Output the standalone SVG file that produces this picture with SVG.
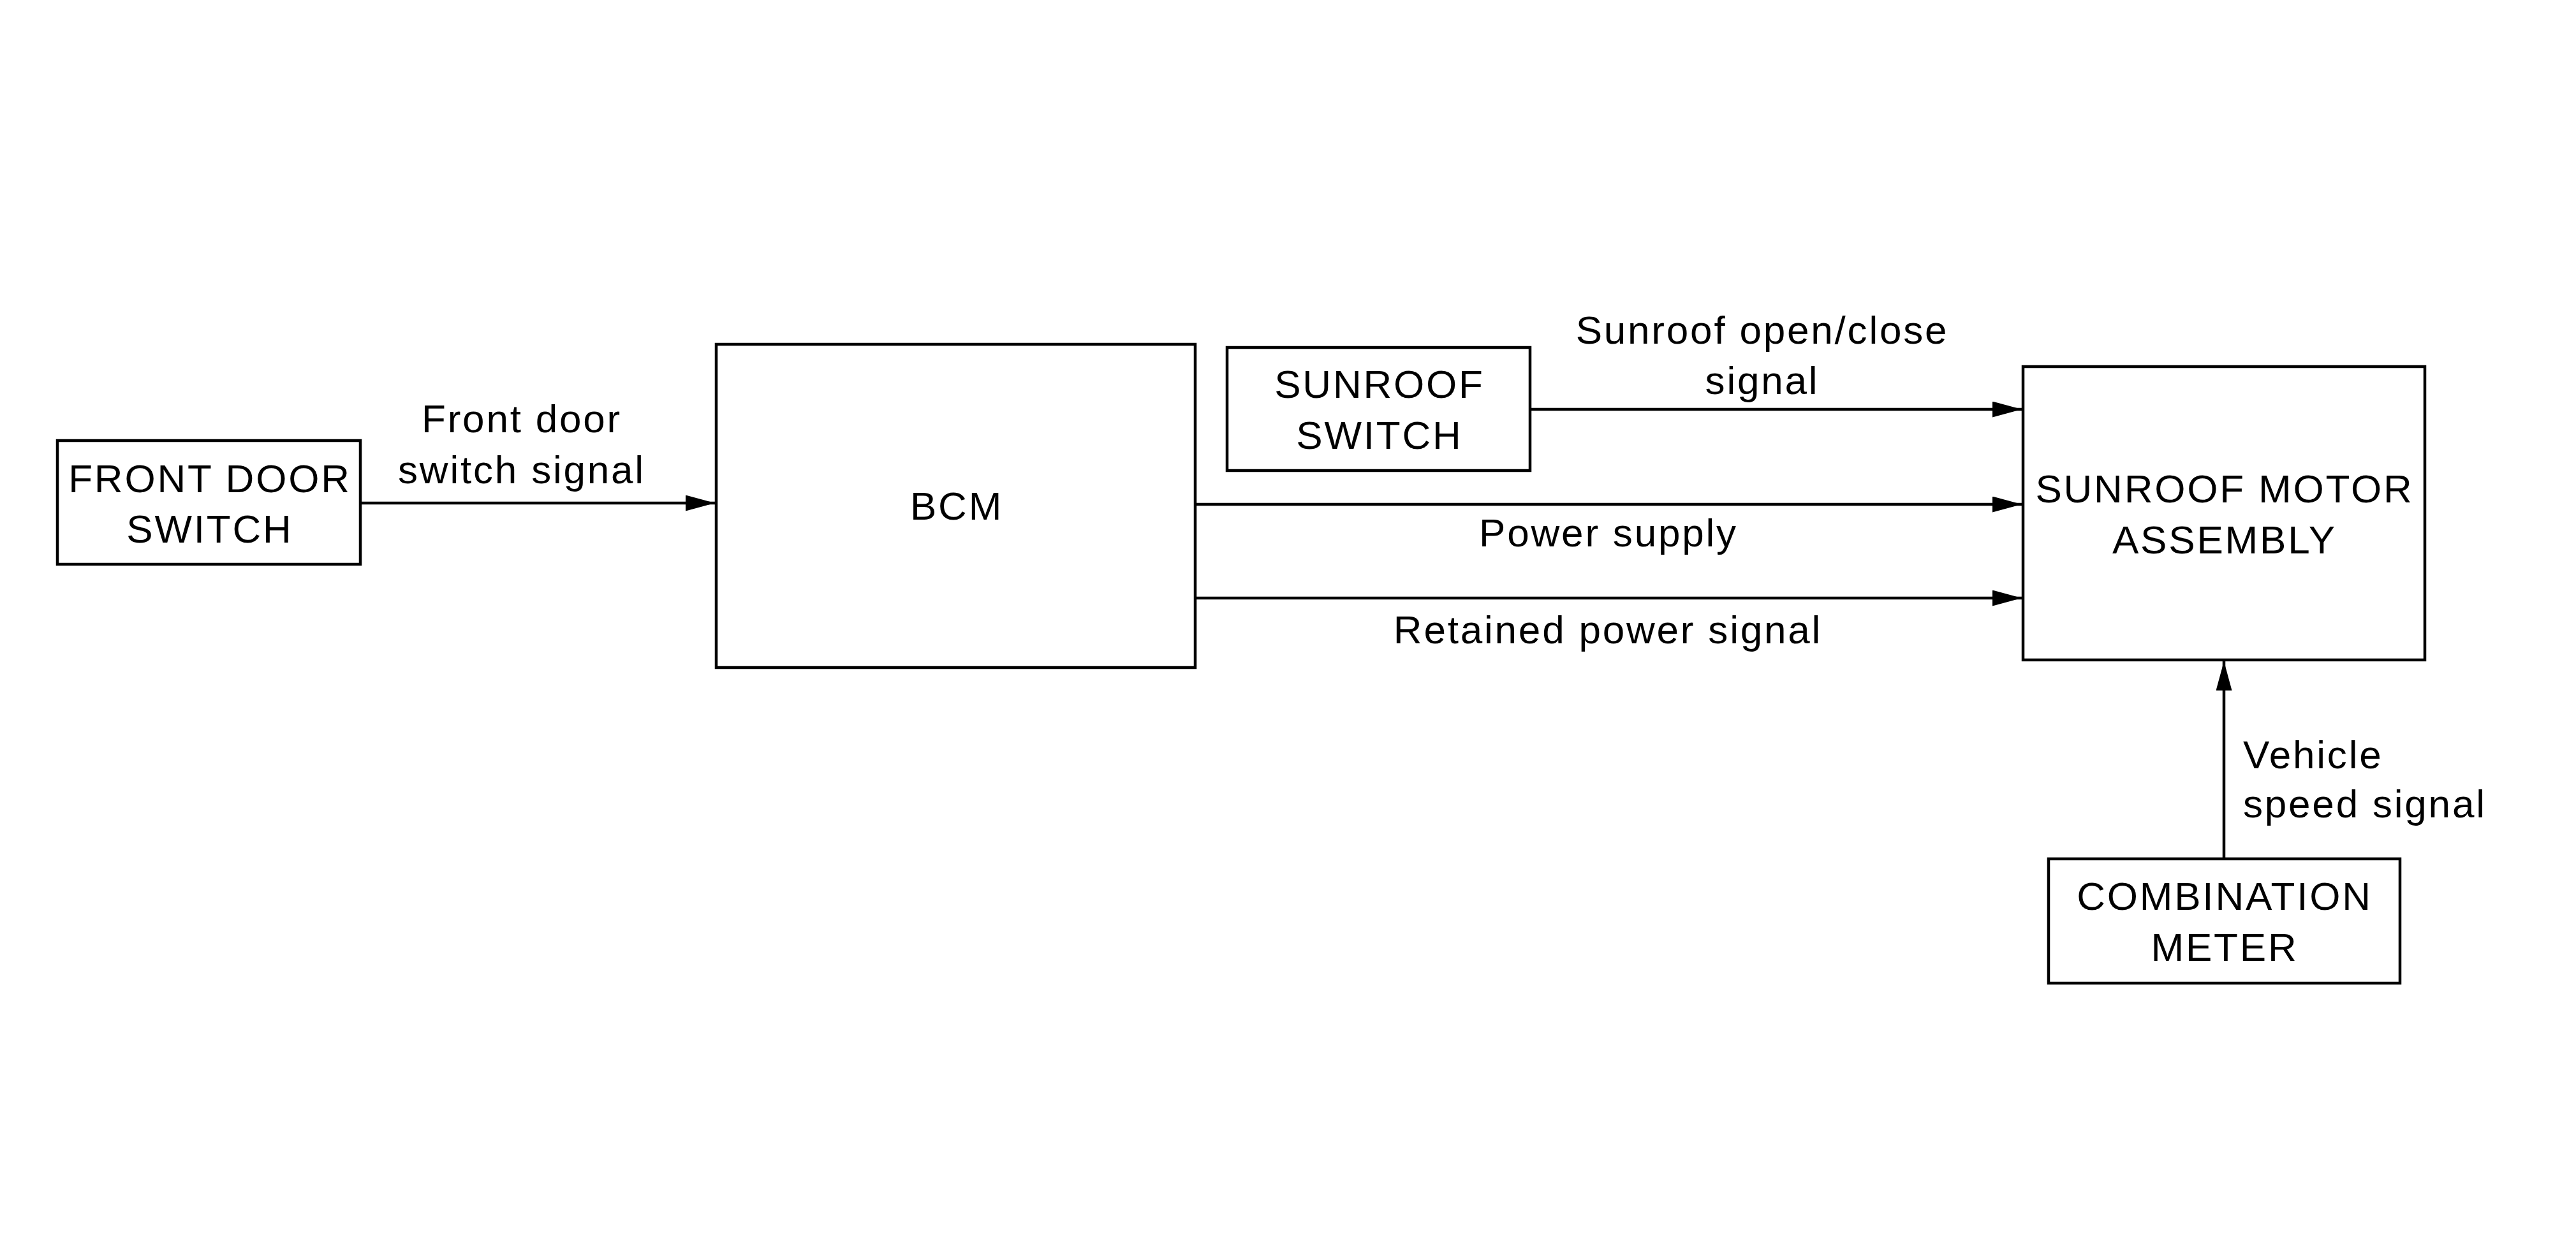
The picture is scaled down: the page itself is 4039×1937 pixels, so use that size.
<svg xmlns="http://www.w3.org/2000/svg" width="4039" height="1937" viewBox="0 0 4039 1937">
<style>
.box{fill:#fff;stroke:#000;stroke-width:4.5}
.t{font-family:"Liberation Sans",Arial,sans-serif;font-size:62px;letter-spacing:2.8px;fill:#000}
.c{text-anchor:middle}
.ln{stroke:#000;stroke-width:4.5;fill:none}
</style>
<defs>
<marker id="ah" markerUnits="userSpaceOnUse" markerWidth="46" markerHeight="25" refX="46" refY="12.5" orient="auto">
<path d="M0,0 L46,12.5 L0,25 Z" fill="#000"/>
</marker>
</defs>
<rect width="4039" height="1937" fill="#fff"/>
<g id="connectors">
<line class="ln" x1="565" y1="789" x2="1121" y2="789" marker-end="url(#ah)"/>
<line class="ln" x1="2399" y1="642" x2="3170" y2="642" marker-end="url(#ah)"/>
<line class="ln" x1="1874" y1="791" x2="3170" y2="791" marker-end="url(#ah)"/>
<line class="ln" x1="1874" y1="938" x2="3170" y2="938" marker-end="url(#ah)"/>
<line class="ln" x1="3487" y1="1347" x2="3487" y2="1037" marker-end="url(#ah)"/>
<text class="t c" x="818" y="678">Front door</text>
<text class="t c" x="818" y="758">switch signal</text>
<text class="t c" x="2763" y="539">Sunroof open/close</text>
<text class="t c" x="2763" y="618">signal</text>
<text class="t c" x="2522" y="857">Power supply</text>
<text class="t c" x="2521" y="1009">Retained power signal</text>
<text class="t" x="3517" y="1205">Vehicle</text>
<text class="t" x="3517" y="1282">speed signal</text>
</g>
<g id="front-door-switch">
<rect class="box" x="90" y="691" width="475" height="194"/>
<text class="t c" x="329" y="772">FRONT DOOR</text>
<text class="t c" x="329" y="851">SWITCH</text>
</g>
<g id="bcm">
<rect class="box" x="1123" y="540" width="751" height="507"/>
<text class="t c" x="1500" y="815">BCM</text>
</g>
<g id="sunroof-switch">
<rect class="box" x="1924" y="545" width="475" height="193"/>
<text class="t c" x="2163" y="624">SUNROOF</text>
<text class="t c" x="2163" y="704">SWITCH</text>
</g>
<g id="sunroof-motor-assembly">
<rect class="box" x="3172" y="575" width="630" height="460"/>
<text class="t c" x="3488" y="788">SUNROOF MOTOR</text>
<text class="t c" x="3488" y="868">ASSEMBLY</text>
</g>
<g id="combination-meter">
<rect class="box" x="3212" y="1347" width="551" height="195"/>
<text class="t c" x="3488" y="1427">COMBINATION</text>
<text class="t c" x="3488" y="1507">METER</text>
</g>
</svg>
